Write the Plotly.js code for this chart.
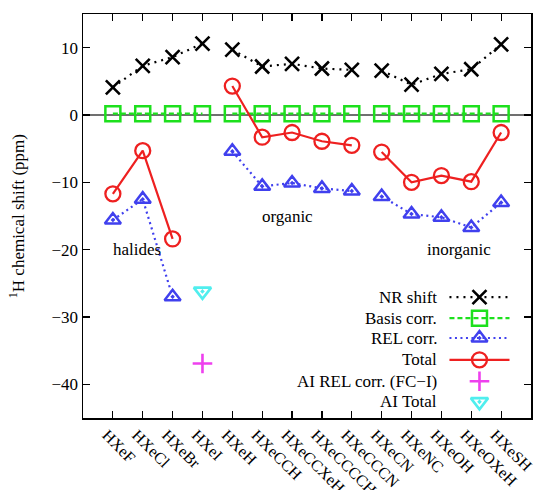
<!DOCTYPE html>
<html>
<head>
<meta charset="utf-8">
<script src="https://cdn.plot.ly/plotly-3.0.1.min.js"></script>
<style>html,body{margin:0;padding:0;background:#fff}#chart{width:533px;height:490px}</style>
</head>
<body>
<div id="chart"></div>
<script>
const categories = ["HXeF","HXeCl","HXeBr","HXeI","HXeH","HXeCCH","HXeCCXeH","HXeCCCCH","HXeCCCN","HXeCN","HXeNC","HXeOH","HXeOXeH","HXeSH"];
const groupStarts = [0, 4, 9]; // halides, organic, inorganic
const nrShift   = [4.1, 7.3, 8.6, 10.6, 9.7, 7.2, 7.6, 6.9, 6.7, 6.6, 4.5, 6.1, 6.8, 10.5];
const basisCorr = [0.2, 0.2, 0.2, 0.2, 0.2, 0.2, 0.2, 0.2, 0.2, 0.2, 0.2, 0.2, 0.2, 0.2];
const relCorr   = [-15.6, -12.5, -27.0, null, -5.4, -10.6, -10.1, -10.9, -11.3, -12.1, -14.7, -15.2, -16.7, -13.0];
const total     = [-11.7, -5.3, -18.4, null, 4.3, -3.3, -2.6, -3.9, -4.5, -5.5, -10.0, -9.0, -9.9, -2.6];
const aiRelCorr = [null, null, null, -36.9, null, null, null, null, null, null, null, null, null, null];
const aiTotal   = [null, null, null, -26.2, null, null, null, null, null, null, null, null, null, null];
const groupLabels = ["halides", "organic", "inorganic"];
const groupLabelX = [1.80, 6.86, 12.58];
const groupLabelY = [-20, -15.1, -20];
const legendNames = ["NR shift", "Basis corr.", "REL corr.", "Total", "AI REL corr. (FC\u2212I)", "AI Total"];
const yTitle = "<sup>1</sup>H chemical shift (ppm)";

const FONT = "Liberation Serif, Times New Roman, serif";
const FS = 17;
const xs = categories.map((c, i) => i + 1);

function withGaps(vals) {
  const X = [], Y = [];
  vals.forEach((v, i) => {
    if (i > 0 && groupStarts.includes(i)) { X.push(null); Y.push(null); }
    X.push(xs[i]); Y.push(v);
  });
  return {x: X, y: Y};
}

const styles = [
  {vals: nrShift, color: "#000000", dash: "2px,5px", symbol: "x-thin-open", size: 14, lw: 2.6, mode: "lines+markers"},
  {vals: basisCorr, color: "#1de01d", dash: "5px,3px", symbol: "square-open", size: 15, lw: 2.5, mode: "lines+markers"},
  {vals: relCorr, color: "#4040ee", dash: "2px,3.5px", symbol: "triangle-up-open-dot", size: 14, lw: 2.5, mode: "lines+markers"},
  {vals: total, color: "#ee2020", dash: "solid", symbol: "circle-open", size: 15, lw: 2.3, mode: "lines+markers"},
  {vals: aiRelCorr, color: "#ee40ee", dash: "solid", symbol: "cross-thin-open", size: 14, lw: 2.6, mode: "markers"},
  {vals: aiTotal, color: "#50eeee", dash: "solid", symbol: "triangle-down-open-dot", size: 15, lw: 2.6, mode: "markers"}
];

const traces = [];
styles.forEach(s => {
  const d = withGaps(s.vals);
  traces.push({
    x: d.x, y: d.y, type: "scatter", mode: s.mode, connectgaps: false, showlegend: false,
    line: {color: s.color, dash: s.dash, width: 2.2},
    marker: {symbol: s.symbol, size: s.size, color: s.color, line: {color: s.color, width: s.lw}},
    hoverinfo: "skip", cliponaxis: false
  });
});

// custom legend (text on the left, sample on the right) on an overlay paper axis
const legRowY = [0.299, 0.247, 0.198, 0.144, 0.091, 0.040];
const legX0 = 0.818, legXm = 0.885, legX1 = 0.952, legTextX = 0.794;
const annotations = [];
styles.forEach((s, i) => {
  if (s.mode.indexOf("lines") >= 0) {
    traces.push({x: [legX0, legX1], y: [legRowY[i], legRowY[i]], xaxis: "x2", yaxis: "y2",
      type: "scatter", mode: "lines", showlegend: false, hoverinfo: "skip",
      line: {color: s.color, dash: s.dash, width: 2.2}});
  }
  traces.push({x: [legXm], y: [legRowY[i]], xaxis: "x2", yaxis: "y2",
    type: "scatter", mode: "markers", showlegend: false, hoverinfo: "skip",
    marker: {symbol: s.symbol, size: s.size, color: s.color, line: {color: s.color, width: s.lw}}});
  annotations.push({xref: "paper", yref: "paper", x: legTextX, y: legRowY[i], text: legendNames[i],
    showarrow: false, xanchor: "right", yanchor: "middle", font: {family: FONT, size: FS, color: "#000"}});
});
groupLabels.forEach((t, i) => annotations.push({x: groupLabelX[i], y: groupLabelY[i], xref: "x", yref: "y",
  text: t, showarrow: false, font: {family: FONT, size: FS, color: "#000"}}));
annotations.push({xref: "paper", yref: "paper", x: -0.147, y: 0.5, xanchor: "center", yanchor: "middle",
  textangle: -90, text: yTitle, showarrow: false, font: {family: FONT, size: FS, color: "#000"}});

const layout = {
  width: 533, height: 490,
  margin: {l: 83, r: 2, t: 14, b: 72},
  paper_bgcolor: "#fff", plot_bgcolor: "#fff",
  font: {family: FONT, size: FS, color: "#000"},
  showlegend: false,
  xaxis: {
    range: [0, 15], tickmode: "array", tickvals: xs, ticktext: categories, tickangle: 45,
    ticks: "inside", ticklen: 7, tickwidth: 1.2, tickcolor: "#000",
    showline: true, linecolor: "#000", linewidth: 1.5, mirror: "ticks",
    showgrid: false, zeroline: false, tickfont: {family: FONT, size: 16},
    ticklabeloverflow: "allow", ticklabelshift: -6
  },
  yaxis: {
    range: [-45, 15], tickmode: "array", tickvals: [-40, -30, -20, -10, 0, 10],
    ticktext: ["\u221240", "\u221230", "\u221220", "\u221210", "0", "10"],
    ticks: "inside", ticklen: 7, tickwidth: 1.2, tickcolor: "#000",
    showline: true, linecolor: "#000", linewidth: 1.5, mirror: "ticks",
    showgrid: false, zeroline: true, zerolinecolor: "#707070", zerolinewidth: 1.8,
    tickfont: {family: FONT, size: FS}
  },
  xaxis2: {overlaying: "x", range: [0, 1], visible: false, fixedrange: true},
  yaxis2: {overlaying: "y", range: [0, 1], visible: false, fixedrange: true},
  annotations: annotations
};

Plotly.newPlot("chart", traces, layout, {displayModeBar: false, staticPlot: true});
</script>
</body>
</html>
